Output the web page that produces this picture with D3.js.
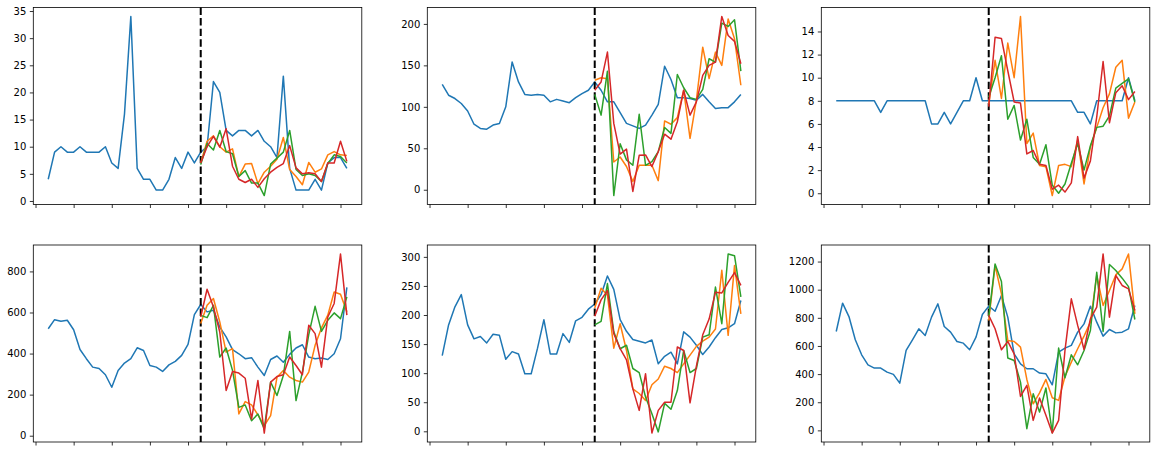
<!DOCTYPE html>
<html lang="en">
    <head>
        <meta charset="utf-8">
        <title>Actual vs forecasts</title>
        <script type="text/javascript" src="https://d3js.org/d3.v7.min.js"></script>
        <style>
            body {
                margin: 0;
                background: white;
            }

            .tick text {
                font-family: "DejaVu Sans", sans-serif;
                font-size: 10px;
                fill: #000;
            }

            .tick line {
                stroke: #000;
                stroke-width: 0.8;
            }

            .frame {
                fill: none;
                stroke: #000;
                stroke-width: 0.8;
            }

            .series {
                fill: none;
                stroke-width: 1.5;
                stroke-linejoin: round;
            }

            .splitLine {
                stroke: #000;
                stroke-width: 2;
                stroke-dasharray: 7.4, 3.2;
            }
        </style>
    </head>
    <body>
        <div id="svgContainer"></div>
        <script type="text/javascript">
            //actual series, 48 points each
            let actual1 = [4,9,10,9,9,10,9,9,9,10,7,6,16,34,6,4,4,2,2,4,8,6,9,7,9,10,22,20,13,12,13,13,12,13,11,10,8,23,6,2,2,2,4,2,7,8,8,6];
            let actual2 = [127,114,110,104,95,79,74,73,78,80,100,154,130,115,114,115,114,106,109,107,105,111,116,120,130,120,106,106,93,80,77,74,78,90,103,149,133,111,111,110,108,115,106,98,99,99,106,115];
            let actual3 = [8,8,8,8,8,8,8,7,8,8,8,8,8,8,8,6,6,7,6,7,8,8,10,8,8,8,8,8,8,8,8,8,8,8,8,8,8,8,7,7,6,8,8,8,8,8,10,8];
            let actual4 = [521,565,557,562,516,420,375,334,327,297,236,318,354,375,428,415,342,334,313,345,362,391,445,590,639,603,611,529,481,419,399,375,380,334,293,371,388,358,396,427,443,383,375,378,371,399,472,722];
            let actual5 = [130,183,214,235,183,159,163,152,167,165,124,137,133,99,99,143,192,133,133,168,153,190,196,210,219,235,267,244,192,172,158,155,152,157,116,129,136,116,171,162,148,132,145,161,175,178,185,225];
            let actual6 = [703,904,809,644,537,466,443,443,414,398,336,568,644,722,675,805,899,738,698,632,620,573,663,824,883,847,959,805,544,473,438,438,407,402,324,556,585,604,698,757,883,769,670,717,693,698,722,888];

            //forecast series, starting at the split index
            let orange1 = [7,11,12,10,9,9.6,4.5,6.8,6.9,3.2,5.3,6.4,7.7,11.7,5.8,4.5,3,7.1,5.3,5.9,8.5,9.1,8.5,8.4];
            let green1 = [6.7,10.6,9.4,13,9.1,8.7,4.5,5.6,3.3,3.3,1,6.8,7.9,9,13,5.8,4.7,5,4.7,3.6,6.9,8.5,8.2,7];
            let red1 = [7,10,11.9,9.9,13.3,6.4,4,3.4,4,2.5,4.1,5.3,6.2,6.9,10.2,6.1,5,5.2,5,3.6,7,7,11,7.3];

            let orange2 = [132,135,134,33.5,39.5,28,10,29.5,29.5,29.5,11,83,79,87,120,62,108,172,134,166,150,206,182,126];
            let green2 = [115,90,143,-7,55.5,36,29.5,91,29.5,34,46,75,68,139,123,111,109,121,158,154,201,197,205,143];
            let red2 = [120,130,166,80,43,49,-2,41.5,42,28,46,67,61,82,120,90,106,138,150,154,209,186,179,152];

            let orange3 = [7.7,11.5,8.2,13,10,15.3,4.3,5.2,2.4,2.3,-0.2,2.4,2.5,2.3,4.6,0.8,4,5.7,7.4,8.6,10.9,11.5,6.5,7.9];
            let green3 = [8.3,10,11.9,6.4,7.6,4.6,6.4,3.1,2.5,4.2,0.7,0,0.8,2.6,4.3,2,4.1,5.7,5.8,6.7,9.1,9.5,9.9,7.9];
            let red3 = [7.5,13.5,13.4,10.6,7.9,7.8,3.4,3.7,2.5,2.4,0.35,0.7,0.1,0.9,4.9,1.3,2.8,6.6,11.4,6.1,8.7,9.3,8.1,8.8];

            let orange4 = [546,635,668,554,407,424,106,166,150,101,49,98,285,318,285,269,261,310,440,525,587,700,689,603];
            let green4 = [586,575,635,383,427,318,138,150,73,106,33,261,196,293,508,171,310,492,630,508,562,598,570,676];
            let red4 = [578,713,627,505,220,313,305,280,81,269,13,261,288,297,383,342,297,538,497,334,578,644,885,587];

            let orange5 = [212,246,234,143,185,139,73,65,53,80,90,112,108,101,116,131,146,155,162,176,277,165,285,202];
            let green5 = [183,189,254,171,142,148,108,101,59,30,-1,48,38,70,139,101,108,162,166,248,185,305,302,231];
            let red5 = [198,226,242,168,142,123,73,36,99,-3,36,50,50,145,139,49,112,166,193,239,238,256,273,251];

            let orange6 = [781,1172,970,639,632,592,362,189,267,362,232,213,383,485,580,670,769,1101,888,994,1105,1148,1254,828];
            let green6 = [805,1183,1058,514,497,343,12,260,130,301,-17,585,374,537,466,568,710,1124,703,1179,1136,1082,1022,788];
            let red6 = [817,722,573,632,544,241,320,71,230,107,-19,71,568,935,746,575,793,876,1254,805,1101,1030,1006,852];

            //tick values
            let xTicks = [-2, 4, 10, 16, 22, 28, 34, 40, 46];
            let yTicks1 = [0, 5, 10, 15, 20, 25, 30, 35];
            let yTicks2 = [0, 50, 100, 150, 200];
            let yTicks3 = [0, 2, 4, 6, 8, 10, 12, 14];
            let yTicks4 = [0, 200, 400, 600, 800];
            let yTicks5 = [0, 50, 100, 150, 200, 250, 300];
            let yTicks6 = [0, 200, 400, 600, 800, 1000, 1200];

            let splitIndex = 24;

            let panels = [
                {actual: actual1, forecasts: [orange1, green1, red1], yTicks: yTicks1},
                {actual: actual2, forecasts: [orange2, green2, red2], yTicks: yTicks2},
                {actual: actual3, forecasts: [orange3, green3, red3], yTicks: yTicks3},
                {actual: actual4, forecasts: [orange4, green4, red4], yTicks: yTicks4},
                {actual: actual5, forecasts: [orange5, green5, red5], yTicks: yTicks5},
                {actual: actual6, forecasts: [orange6, green6, red6], yTicks: yTicks6}
            ];

            let colors = ["#ff7f0e", "#2ca02c", "#d62728"];

            //figure and axes layout
            let w = 1156;
            let h = 453;
            let colLeft = [33.3, 427.3, 821.3];
            let rowTop = [7.5, 245];
            let aw = 328.5;
            let ah = 197;

            let svg = d3.select("#svgContainer")
                        .append("svg")
                        .attr("width", w)
                        .attr("height", h);

            panels.forEach((p, k) => {
                let col = k % 3;
                let row = Math.floor(k / 3);
                let g = svg.append("g")
                            .attr("transform", `translate(${colLeft[col]}, ${rowTop[row]})`);

                //matplotlib style 5% margins
                let n = p.actual.length;
                let xPad = 0.05 * (n - 1);
                let xScale = d3.scaleLinear()
                                .domain([-xPad, n - 1 + xPad])
                                .range([0, aw]);

                let all = p.actual.concat(...p.forecasts);
                let [lo, hi] = d3.extent(all);
                let yPad = 0.05 * (hi - lo);
                let yScale = d3.scaleLinear()
                                .domain([lo - yPad, hi + yPad])
                                .range([ah, 0]);

                //axes
                g.append("g")
                    .attr("transform", `translate(0, ${ah})`)
                    .call(d3.axisBottom(xScale).tickValues(xTicks).tickSize(3.5).tickFormat(""))
                    .call(a => a.select(".domain").remove());

                g.append("g")
                    .call(d3.axisLeft(yScale).tickValues(p.yTicks).tickSize(3.5).tickPadding(3.5).tickFormat(d3.format("d")))
                    .call(a => a.select(".domain").remove());

                //actual line
                let line = d3.line()
                            .x((d, i) => xScale(i))
                            .y(d => yScale(d));

                g.append("path")
                    .datum(p.actual)
                    .attr("class", "series")
                    .attr("stroke", "#1f77b4")
                    .attr("d", line);

                //split marker
                g.append("line")
                    .attr("class", "splitLine")
                    .attr("x1", xScale(splitIndex))
                    .attr("x2", xScale(splitIndex))
                    .attr("y1", 0)
                    .attr("y2", ah);

                //forecast lines
                let fLine = d3.line()
                            .x((d, i) => xScale(i + splitIndex))
                            .y(d => yScale(d));

                p.forecasts.forEach((f, j) => {
                    g.append("path")
                        .datum(f)
                        .attr("class", "series")
                        .attr("stroke", colors[j])
                        .attr("d", fLine);
                });

                g.append("rect")
                    .attr("class", "frame")
                    .attr("width", aw)
                    .attr("height", ah);
            });
        </script>
    </body>
</html>
